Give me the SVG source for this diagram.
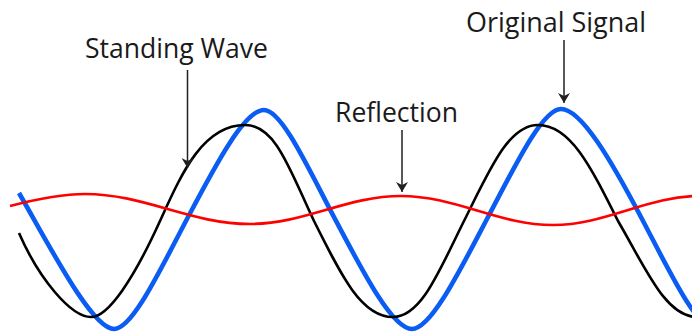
<svg xmlns="http://www.w3.org/2000/svg" width="692" height="335" viewBox="0 0 692 335">
<style>
.lbl{font-family:"Open Sans","Liberation Sans",sans-serif;font-size:27px;fill:#1a1a1a}
.wave{fill:none;stroke-linecap:butt;stroke-linejoin:round}
.blue{stroke:#0a5cf2;stroke-width:4.6}
.black{stroke:#000;stroke-width:2.6}
.red{stroke:#f00;stroke-width:2.7}
.arr{stroke:#231f20;stroke-width:1.5;fill:none;marker-end:url(#ah)}
</style>
<defs>
<marker id="ah" viewBox="0 0 10 12" refX="10" refY="6" markerWidth="10" markerHeight="12" markerUnits="userSpaceOnUse" orient="auto">
<path d="M0,0 L10,6 L0,12 L3,6 Z" fill="#231f20"/>
</marker>
</defs>
<rect width="692" height="335" fill="#fff"/>
<g id="waves">
<path id="original-signal" class="wave blue" d="M19,193 C49,245 92,329 114,329 C132.25,329 159.26,271.7 187,219 C216.26,163.4 244.75,110 264,110 C281.75,110 308.02,167.74 335,219 C364.26,274.6 392.75,329 412,329 C430.75,329 458.5,273.15 487,219 C515.12,165.57 542.5,109 561,109 C581.25,109 611.22,160.52 642,219 C669.74,271.7 696.75,329 715,329"/>
<path id="standing-wave" class="wave black" d="M19,233 C39,279 71,317 91,317 C108.25,317 133.8,278.7 160,221 C181.25,174.25 202.5,125 245,125 C276,125 289.85,170.3 314,221 C341.65,276.3 361.4,317 393,317 C421.4,317 439.15,270.7 464,221 C489.9,169.2 508.4,125 538,125 C570,125 590,165 618,221 C645.65,268 665.4,317 697,317"/>
<path id="reflection" class="wave red" d="M10,206 C35,199.5 60,194 85,194 C144.4,194 190.6,224 250,224 C304.4,224 346.6,196 401,196 C455.7,196 498.3,225 553,225 C605.9,225 647.1,196 700,196"/>
</g>
<g id="label-standing-wave">
<text class="lbl" x="85" y="58" textLength="183" lengthAdjust="spacingAndGlyphs">Standing Wave</text>
</g>
<g id="label-reflection">
<text class="lbl" x="335" y="122" textLength="123" lengthAdjust="spacingAndGlyphs">Reflection</text>
</g>
<g id="label-original-signal">
<text class="lbl" x="466" y="32" textLength="180" lengthAdjust="spacingAndGlyphs">Original Signal</text>
</g>
<g id="connectors">
<line class="arr" x1="187.5" y1="70" x2="187.5" y2="168"/>
<line class="arr" x1="402" y1="130" x2="402" y2="192"/>
<line class="arr" x1="564" y1="40" x2="564" y2="103"/>
</g>
</svg>
